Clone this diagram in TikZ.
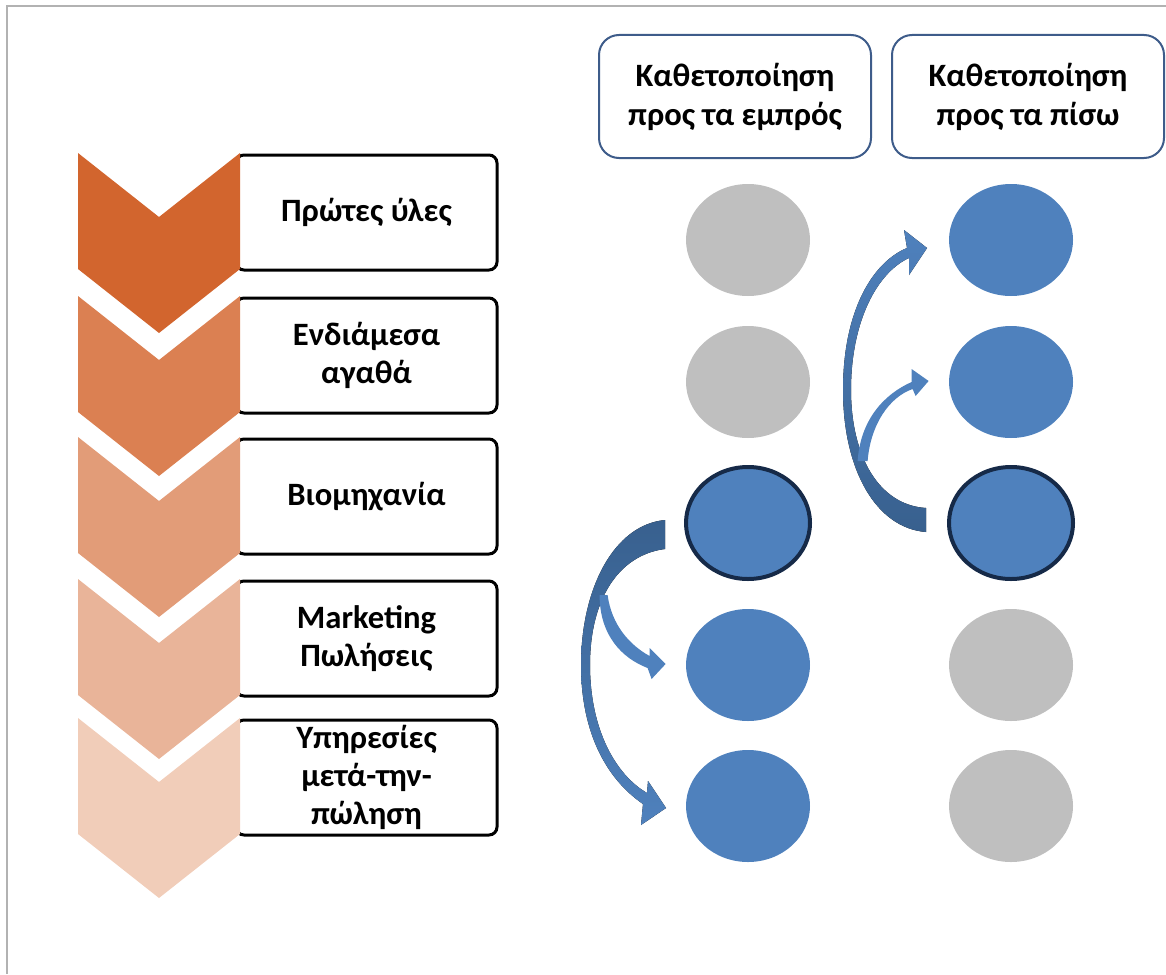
\documentclass[tikz,border=0pt]{standalone}
\usepackage{fontspec}
\setmainfont{Carlito}
\usetikzlibrary{positioning,shapes}

\definecolor{chevA}{RGB}{210,101,46}
\definecolor{chevB}{RGB}{219,128,82}
\definecolor{chevC}{RGB}{226,156,120}
\definecolor{chevD}{RGB}{233,180,153}
\definecolor{chevE}{RGB}{241,205,185}
\definecolor{headblue}{RGB}{62,92,138}
\definecolor{dotblue}{RGB}{79,129,189}
\definecolor{dotgray}{RGB}{191,191,191}
\definecolor{dotrim}{RGB}{22,42,72}
\definecolor{arrowdark}{RGB}{56,96,142}
\definecolor{framegray}{RGB}{178,178,178}

\begin{document}
\begin{tikzpicture}[x=0.5pt, y=-0.5pt,
  stage/.style={draw=black, line width=1.5pt, rounded corners=4pt, fill=white, minimum width=130.5pt, minimum height=57.5pt, align=center, inner sep=0pt, font=\bfseries\fontsize{16.3}{19}\selectfont},
  head/.style={draw=headblue, line width=1pt, rounded corners=10pt, fill=white, minimum width=136pt, minimum height=61.5pt, align=center, inner sep=0pt, font=\bfseries\fontsize{16.3}{19.5}\selectfont},
  dot/.style={ellipse, minimum width=62pt, minimum height=56pt, inner sep=0pt},
  active/.style={dot, fill=dotblue},
  idle/.style={dot, fill=dotgray},
  pivot/.style={dot, fill=dotblue, draw=dotrim, line width=2pt},
  curlarrow/.style={top color=arrowdark, middle color=dotblue, bottom color=dotblue}]
  \useasboundingbox (0,0) rectangle (1166,974);
  \draw[framegray, line width=1pt] (6.5,974) -- (6.5,6.5) -- (1166,6.5);

  % value chain stages
  \node [stage] at (366.5,212.5) (raw) {Πρώτες ύλες};
  \node [stage] at (366.5,355.5) (mid) {Ενδιάμεσα\\αγαθά};
  \node [stage] at (366.5,496.5) (ind) {Βιομηχανία};
  \node [stage] at (366.5,638.5) (mkt) {Marketing\\Πωλήσεις};
  \node [stage] at (366.5,777.5) (srv) {Υπηρεσίες\\μετά-την-\\πώληση};
  \fill[chevA] (78,153) -- (159,217) -- (240,153) -- (240,269) -- (159,333) -- (78,269) -- cycle;
  \fill[chevB] (78,296) -- (159,360) -- (240,296) -- (240,412) -- (159,476) -- (78,412) -- cycle;
  \fill[chevC] (78,437) -- (159,501) -- (240,437) -- (240,553) -- (159,617) -- (78,553) -- cycle;
  \fill[chevD] (78,579) -- (159,643) -- (240,579) -- (240,695) -- (159,759) -- (78,695) -- cycle;
  \fill[chevE] (78,718) -- (159,782) -- (240,718) -- (240,834) -- (159,898) -- (78,834) -- cycle;

  % the two integration columns
  \node [head] at (735,96.5) (fwd) {Καθετοποίηση\\προς τα εμπρός};
  \node [head] at (1028,96.5) (bwd) {Καθετοποίηση\\προς τα πίσω};
  \node [idle] at (748,240) (f1) {};
  \node [idle] at (748,382) (f2) {};
  \node [pivot] at (748,523) (f3) {};
  \node [active] at (748,665) (f4) {};
  \node [active] at (748,806) (f5) {};
  \node [active] at (1011,240) (b1) {};
  \node [active] at (1011,382) (b2) {};
  \node [pivot] at (1011,523) (b3) {};
  \node [idle] at (1011,665) (b4) {};
  \node [idle] at (1011,806) (b5) {};

  % forward arrows out of f3
  \begin{scope}[shift={(f3.west)}]
    \fill[curlarrow] (-19,-3) .. controls (-71,2) and (-103,67) .. (-103,142) .. controls (-103,212) and (-76,257) .. (-41,281) -- (-43,302) -- (-18,285) -- (-36,258) -- (-37,270) .. controls (-68,252) and (-94,207) .. (-94,142) .. controls (-94,77) and (-66,32) .. (-19,26) -- cycle;
  \end{scope}
  \begin{scope}[shift={(f4.west)}]
    \fill[dotblue] (-78,-70) .. controls (-74,-40) and (-56,-20) .. (-36,-9) -- (-36,-17) -- (-20,-1) -- (-34,14) -- (-38,3) .. controls (-64,-7) and (-86,-30) .. (-86,-70) -- cycle;
  \end{scope}
  % backward arrows out of b3
  \begin{scope}[shift={(b3.west)}]
    \fill[curlarrow, top color=dotblue, bottom color=arrowdark] (-21,9) .. controls (-71,5) and (-104,-53) .. (-104,-133) .. controls (-104,-213) and (-74,-261) .. (-40,-275) -- (-43,-293) -- (-20,-275) -- (-38,-248) -- (-38,-265) .. controls (-69,-251) and (-96,-203) .. (-96,-133) .. controls (-96,-68) and (-69,-18) .. (-21,-15) -- cycle;
  \end{scope}
  \begin{scope}[shift={(b2.west)}]
    \fill[dotblue] (-91,79) .. controls (-88,37) and (-64,12) .. (-37,0) -- (-37,-13) -- (-20,-1) -- (-33,14) -- (-36,7) .. controls (-59,15) and (-78,42) .. (-81,79) -- cycle;
  \end{scope}
\end{tikzpicture}
\end{document}
